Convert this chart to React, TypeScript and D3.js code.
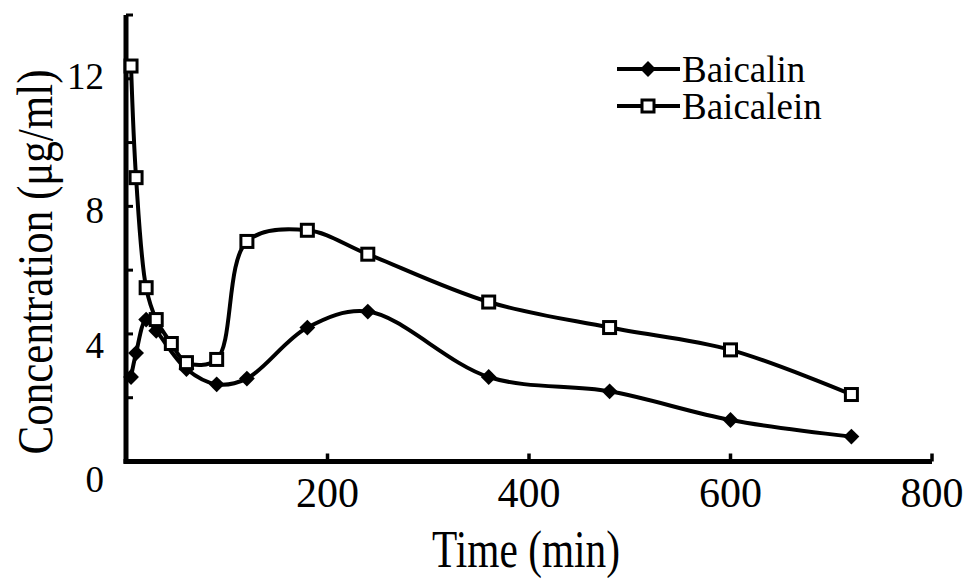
import React, { useRef, useEffect } from "react";
import * as d3 from "d3";

// sampling times (min) and plasma concentrations (ug/ml)
const baicalinTimes = [5, 10, 20, 30, 60, 90, 120, 180, 240, 360, 480, 600, 720];
const baicalinValues = [2.65, 3.4, 4.45, 4.1, 2.9, 2.42, 2.6, 4.2, 4.7, 2.65, 2.2, 1.3, 0.78];

const baicaleinTimes = [5, 10, 20, 30, 45, 60, 90, 120, 180, 240, 360, 480, 600, 720];
const baicaleinValues = [12.4, 8.9, 5.45, 4.45, 3.7, 3.1, 3.2, 6.9, 7.25, 6.5, 5.0, 4.2, 3.5, 2.1];

const xTickValues = [200, 400, 600, 800];
const yTickValues = [0, 2, 4, 6, 8, 10, 12, 14];
const yLabelValues = [0, 4, 8, 12];

const seriesNames = ["Baicalin", "Baicalein"];

const W = 969;
const H = 579;

const App = () => {
  const svgRef = useRef<SVGSVGElement>(null);

  useEffect(() => {
    document.body.style.margin = "0";
    const svg = d3.select(svgRef.current);
    svg.selectAll("*").remove();

    const font = "'Liberation Serif', 'Times New Roman', serif";

    const x = d3.scaleLinear().domain([0, 800]).range([126, 932]);
    const y = d3.scaleLinear().domain([0, 14]).range([461.5, 15]);
    // Excel put the y labels slightly off the tick marks
    const yLabel = d3.scaleLinear().domain([0, 12]).range([492, 89]);

    // axes
    svg
      .append("line")
      .attr("x1", x(0))
      .attr("x2", x(0))
      .attr("y1", y(14))
      .attr("y2", y(0) + 2)
      .attr("stroke", "#000")
      .attr("stroke-width", 5);

    svg
      .append("line")
      .attr("x1", x(0) - 2.5)
      .attr("x2", x(800))
      .attr("y1", y(0))
      .attr("y2", y(0))
      .attr("stroke", "#000")
      .attr("stroke-width", 5);

    // y ticks (inside)
    svg
      .selectAll(".ytick")
      .data(yTickValues)
      .enter()
      .append("line")
      .attr("x1", x(0))
      .attr("x2", x(0) + 7)
      .attr("y1", (d) => y(d))
      .attr("y2", (d) => y(d))
      .attr("stroke", "#000")
      .attr("stroke-width", 3);

    // x ticks (inside)
    svg
      .selectAll(".xtick")
      .data(xTickValues)
      .enter()
      .append("line")
      .attr("x1", (d) => x(d))
      .attr("x2", (d) => x(d))
      .attr("y1", y(0))
      .attr("y2", y(0) - 8)
      .attr("stroke", "#000")
      .attr("stroke-width", 3.5);

    svg
      .selectAll(".xlabel")
      .data(xTickValues)
      .enter()
      .append("text")
      .attr("x", (d) => x(d))
      .attr("y", 507)
      .attr("text-anchor", "middle")
      .style("font-family", font)
      .style("font-size", "42px")
      .text((d) => d);

    svg
      .selectAll(".ylabel")
      .data(yLabelValues)
      .enter()
      .append("text")
      .attr("x", 104)
      .attr("y", (d) => yLabel(d))
      .attr("text-anchor", "end")
      .style("font-family", font)
      .style("font-size", "37px")
      .text((d) => d);

    // axis titles (condensed in the original)
    svg
      .append("text")
      .attr("x", 526)
      .attr("y", 567)
      .attr("text-anchor", "middle")
      .attr("textLength", 188)
      .attr("lengthAdjust", "spacingAndGlyphs")
      .style("font-family", font)
      .style("font-size", "52px")
      .text("Time (min)");

    svg
      .append("text")
      .attr("transform", "translate(52,262) rotate(-90)")
      .attr("text-anchor", "middle")
      .attr("textLength", 385)
      .attr("lengthAdjust", "spacingAndGlyphs")
      .style("font-family", font)
      .style("font-size", "50px")
      .text("Concentration (\u03bcg/ml)");

    const line = d3
      .line<[number, number]>()
      .x((d) => x(d[0]))
      .y((d) => y(d[1]))
      .curve(d3.curveCatmullRom.alpha(0.5));

    const baicalin: [number, number][] = baicalinTimes.map((t, i) => [t, baicalinValues[i]]);
    const baicalein: [number, number][] = baicaleinTimes.map((t, i) => [t, baicaleinValues[i]]);

    [baicalin, baicalein].forEach((data) => {
      svg
        .append("path")
        .datum(data)
        .attr("d", line)
        .attr("fill", "none")
        .attr("stroke", "#000")
        .attr("stroke-width", 4);
    });

    const diamond = d3.symbol().type(d3.symbolDiamond2).size(160);

    svg
      .selectAll(".diamond")
      .data(baicalin)
      .enter()
      .append("path")
      .attr("d", diamond)
      .attr("transform", (d) => `translate(${x(d[0])},${y(d[1])})`)
      .attr("fill", "#000");

    svg
      .selectAll(".square")
      .data(baicalein)
      .enter()
      .append("rect")
      .attr("x", (d) => x(d[0]) - 6)
      .attr("y", (d) => y(d[1]) - 6)
      .attr("width", 12)
      .attr("height", 12)
      .attr("fill", "#fff")
      .attr("stroke", "#000")
      .attr("stroke-width", 3);

    // legend
    const legend = svg.append("g");
    seriesNames.forEach((name, i) => {
      const ly = 69 + i * 37;
      legend
        .append("line")
        .attr("x1", 617)
        .attr("x2", 680)
        .attr("y1", ly)
        .attr("y2", ly)
        .attr("stroke", "#000")
        .attr("stroke-width", 4);
      if (i === 0) {
        legend
          .append("path")
          .attr("d", diamond)
          .attr("transform", `translate(648,${ly})`)
          .attr("fill", "#000");
      } else {
        legend
          .append("rect")
          .attr("x", 648 - 6)
          .attr("y", ly - 6)
          .attr("width", 12)
          .attr("height", 12)
          .attr("fill", "#fff")
          .attr("stroke", "#000")
          .attr("stroke-width", 3);
      }
      legend
        .append("text")
        .attr("x", 682)
        .attr("y", ly + 13)
        .style("font-family", font)
        .style("font-size", "37px")
        .text(name);
    });
  }, []);

  return (
    <div>
      <svg ref={svgRef} width={W} height={H} style={{ display: "block", background: "#fff" }}></svg>
    </div>
  );
};

export default App;
